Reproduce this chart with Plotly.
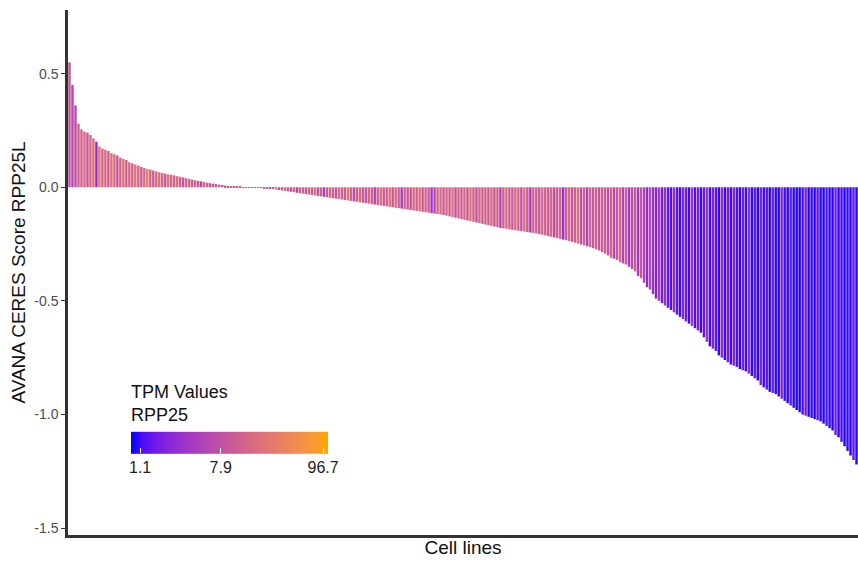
import math
import plotly.graph_objects as go

# ---- data ----
scores = [
    0.55, 0.45, 0.36, 0.28, 0.255, 0.245, 0.24, 0.23, 0.215, 0.20, 0.18, 0.17, 0.165, 0.16, 0.15, 0.145, 0.14, 0.13, 0.125, 0.12,
    0.11, 0.105, 0.10, 0.095, 0.09, 0.085, 0.08, 0.078, 0.074, 0.07, 0.066, 0.063, 0.06, 0.057, 0.055, 0.052, 0.049, 0.046, 0.043, 0.04,
    0.037, 0.034, 0.031, 0.028, 0.026, 0.023, 0.02, 0.018, 0.016, 0.014, 0.012, 0.010, 0.008, 0.006, 0.005, 0.004, 0.003, 0.002, 0.001, 0.0005,
    0.0002, -0.0003, -0.001, -0.0015, -0.003, -0.004, -0.005, -0.007, -0.008, -0.010, -0.012, -0.014, -0.016, -0.018, -0.020, -0.022, -0.024, -0.026, -0.028, -0.030,
    -0.032, -0.034, -0.036, -0.038, -0.040, -0.042, -0.044, -0.046, -0.048, -0.050, -0.052, -0.054, -0.056, -0.058, -0.060, -0.062, -0.064, -0.066, -0.068, -0.070,
    -0.072, -0.074, -0.076, -0.078, -0.080, -0.082, -0.084, -0.086, -0.088, -0.090, -0.092, -0.094, -0.096, -0.098, -0.100, -0.102, -0.104, -0.106, -0.108, -0.110,
    -0.112, -0.114, -0.116, -0.118, -0.120, -0.122, -0.125, -0.128, -0.131, -0.134, -0.137, -0.140, -0.143, -0.146, -0.149, -0.152, -0.155, -0.158, -0.161, -0.164,
    -0.167, -0.170, -0.173, -0.176, -0.179, -0.181, -0.183, -0.185, -0.187, -0.189, -0.191, -0.193, -0.195, -0.197, -0.199, -0.201, -0.203, -0.206, -0.209, -0.212,
    -0.215, -0.218, -0.221, -0.224, -0.227, -0.230, -0.233, -0.236, -0.240, -0.244, -0.248, -0.252, -0.256, -0.260, -0.264, -0.268, -0.273, -0.278, -0.285, -0.292,
    -0.30, -0.31, -0.315, -0.32, -0.33, -0.335, -0.34, -0.35, -0.36, -0.37, -0.39, -0.40, -0.42, -0.44, -0.45, -0.47, -0.49, -0.50, -0.51, -0.52,
    -0.53, -0.54, -0.55, -0.56, -0.57, -0.58, -0.59, -0.60, -0.61, -0.62, -0.63, -0.64, -0.66, -0.68, -0.70, -0.71, -0.72, -0.74, -0.75, -0.76,
    -0.77, -0.78, -0.785, -0.79, -0.80, -0.805, -0.81, -0.82, -0.83, -0.84, -0.85, -0.87, -0.88, -0.89, -0.90, -0.905, -0.91, -0.92, -0.93, -0.94,
    -0.95, -0.96, -0.97, -0.98, -0.99, -1.00, -1.005, -1.01, -1.015, -1.02, -1.025, -1.03, -1.04, -1.05, -1.06, -1.07, -1.09, -1.10, -1.12, -1.14,
    -1.16, -1.18, -1.20, -1.22,
]

tpm = [
    9, 6, 7, 12, 14, 18, 10, 15, 20, 2.5, 25, 14, 16, 12, 22, 18, 9, 14, 20, 12,
    16, 13, 24, 15, 11, 18, 30, 14, 12, 17, 20, 15, 10, 22, 16, 14, 19, 13, 9, 17,
    14, 12, 18, 10, 6, 15, 13, 8, 11, 9, 14, 7, 12, 10, 16, 8, 11, 13, 9, 12,
    10, 14, 8, 12, 6, 15, 11, 9, 13, 18, 7, 12, 16, 10, 8, 14, 5, 11, 13, 9,
    15, 12, 20, 8, 14, 4, 11, 16, 13, 9, 18, 12, 10, 25, 14, 7, 13, 17, 11, 9,
    15, 12, 5, 14, 18, 10, 13, 20, 9, 16, 12, 4, 14, 11, 8, 17, 13, 22, 10, 15,
    12, 3.5, 6, 14, 18, 11, 16, 13, 20, 9, 15, 12, 17, 10, 24, 13, 8, 16, 12, 14,
    11, 18, 9, 15, 5, 13, 20, 12, 10, 16, 14, 8, 19, 11, 4, 15, 12, 9, 17, 13,
    10, 15, 6, 12, 14, 3, 11, 16, 9, 13, 20, 8, 12, 5, 15, 10, 14, 9, 12, 11,
    8, 13, 6, 10, 15, 5, 12, 4, 7, 11, 3.5, 9, 5, 2.5, 6, 3, 2.0, 4, 1.6, 2.8,
    1.4, 1.2, 2.6, 1.3, 1.1, 2.0, 1.5, 1.1, 3.2, 1.2, 1.8, 1.1, 1.4, 3.0, 1.1, 1.9, 1.3, 1.05, 2.4, 1.1,
    1.6, 1.1, 2.0, 1.2, 1.05, 1.7, 1.1, 2.6, 1.05, 1.4, 1.0, 1.9, 1.1, 1.3, 1.0, 1.6, 1.05, 1.0, 2.2, 1.1,
    1.0, 1.5, 1.05, 1.0, 1.0, 1.2, 1.8, 1.0, 1.1, 1.0, 1.4, 1.0, 1.0, 1.3, 1.05, 1.0, 1.7, 1.0, 1.2, 1.0,
    1.1, 1.0, 1.5, 1.0,
]

cell_lines = [f"cell_{i + 1}" for i in range(len(scores))]
tpm_limits = [0.88, 109.0]          # extent of the colour bar
tpm_ticks = [1.1, 7.9, 96.7]
tpm_tick_labels = ["1.1", "7.9", "96.7"]
y_ticks = [-1.5, -1.0, -0.5, 0.0, 0.5]
y_tick_labels = ["-1.5", "-1.0", "-0.5", "0.0", "0.5"]


# ---- colour scale: blue -> orange interpolated in Lab (like ggplot) ----
def _srgb_to_lin(c):
    c = c / 255.0
    return c / 12.92 if c <= 0.04045 else ((c + 0.055) / 1.055) ** 2.4


def _lin_to_srgb(c):
    c = max(0.0, min(1.0, c))
    v = 12.92 * c if c <= 0.0031308 else 1.055 * c ** (1 / 2.4) - 0.055
    return int(round(max(0, min(1, v)) * 255))


def rgb_to_lab(rgb):
    r, g, b = (_srgb_to_lin(v) for v in rgb)
    x = (0.4124 * r + 0.3576 * g + 0.1805 * b) / 0.95047
    y = (0.2126 * r + 0.7152 * g + 0.0722 * b) / 1.0
    z = (0.0193 * r + 0.1192 * g + 0.9505 * b) / 1.08883

    def f(t):
        return t ** (1 / 3) if t > 0.008856 else 7.787 * t + 16 / 116

    fx, fy, fz = f(x), f(y), f(z)
    return (116 * fy - 16, 500 * (fx - fy), 200 * (fy - fz))


def lab_to_rgb(lab):
    L, a, bb = lab
    fy = (L + 16) / 116
    fx = fy + a / 500
    fz = fy - bb / 200

    def finv(t):
        return t ** 3 if t ** 3 > 0.008856 else (t - 16 / 116) / 7.787

    x, y, z = finv(fx) * 0.95047, finv(fy), finv(fz) * 1.08883
    r = 3.2406 * x - 1.5372 * y - 0.4986 * z
    g = -0.9689 * x + 1.8758 * y + 0.0415 * z
    b = 0.0557 * x - 0.2040 * y + 1.0570 * z
    return tuple(_lin_to_srgb(v) for v in (r, g, b))


low = rgb_to_lab((0, 0, 255))
high = rgb_to_lab((255, 165, 0))
colorscale = []
nstops = 16
for k in range(nstops + 1):
    t = k / nstops
    lab = tuple(low[j] + (high[j] - low[j]) * t for j in range(3))
    r, g, b = lab_to_rgb(lab)
    colorscale.append([t, f"rgb({r},{g},{b})"])

log_tpm = [math.log10(v) for v in tpm]
cmin = math.log10(tpm_limits[0])
cmax = math.log10(tpm_limits[1])

FONT = "Liberation Sans, Arial, sans-serif"

# ---- layout geometry ----
W, H = 858, 563
L_M, R_M, T_M, B_M = 68, 0, 10, 28
plot_w = W - L_M - R_M
plot_h = H - T_M - B_M

fig = go.Figure()
fig.add_trace(go.Bar(
    x=list(range(len(scores))),
    y=scores,
    marker=dict(
        color=log_tpm,
        colorscale=colorscale,
        cmin=cmin,
        cmax=cmax,
        line=dict(width=0),
        colorbar=dict(
            orientation="h",
            x=(131 - L_M) / plot_w,
            xanchor="left",
            y=(T_M + plot_h - 482) / plot_h,
            yanchor="bottom",
            lenmode="pixels",
            len=197,
            thickness=22,
            thicknessmode="pixels",
            xpad=0,
            ypad=0,
            outlinewidth=0,
            tickvals=[math.log10(v) for v in tpm_ticks],
            ticktext=tpm_tick_labels,
            ticks="inside",
            ticklen=5,
            tickcolor="white",
            tickfont=dict(family=FONT, size=16, color="#222222"),
        ),
    ),
    hoverinfo="skip",
))

fig.add_annotation(
    text="TPM Values<br>RPP25",
    xref="paper", yref="paper",
    x=(129 - L_M) / plot_w, xanchor="left",
    y=(T_M + plot_h - 380) / plot_h, yanchor="top",
    align="left",
    showarrow=False,
    font=dict(family=FONT, size=18, color="#111111"),
)

fig.update_layout(
    width=W,
    height=H,
    margin=dict(l=L_M, r=R_M, t=T_M, b=B_M),
    paper_bgcolor="white",
    plot_bgcolor="white",
    bargap=0.18,
    showlegend=False,
    font=dict(family=FONT),
    xaxis=dict(
        range=[-0.5, len(scores) - 0.5],
        showticklabels=False,
        ticks="",
        showgrid=False,
        zeroline=False,
        showline=True,
        linecolor="#333333",
        linewidth=3,
        title=dict(text="Cell lines", font=dict(size=19, color="#111111"), standoff=4),
    ),
    yaxis=dict(
        range=[-1.53, 0.78],
        tickvals=y_ticks,
        ticktext=y_tick_labels,
        ticks="outside",
        ticklen=4,
        tickcolor="#333333",
        tickfont=dict(size=14, color="#4D4D4D"),
        showgrid=False,
        zeroline=False,
        showline=True,
        linecolor="#333333",
        linewidth=2.5,
        title=dict(text="AVANA CERES Score RPP25L", font=dict(size=19, color="#111111"), standoff=4),
    ),
)

fig.write_html("out.html")
